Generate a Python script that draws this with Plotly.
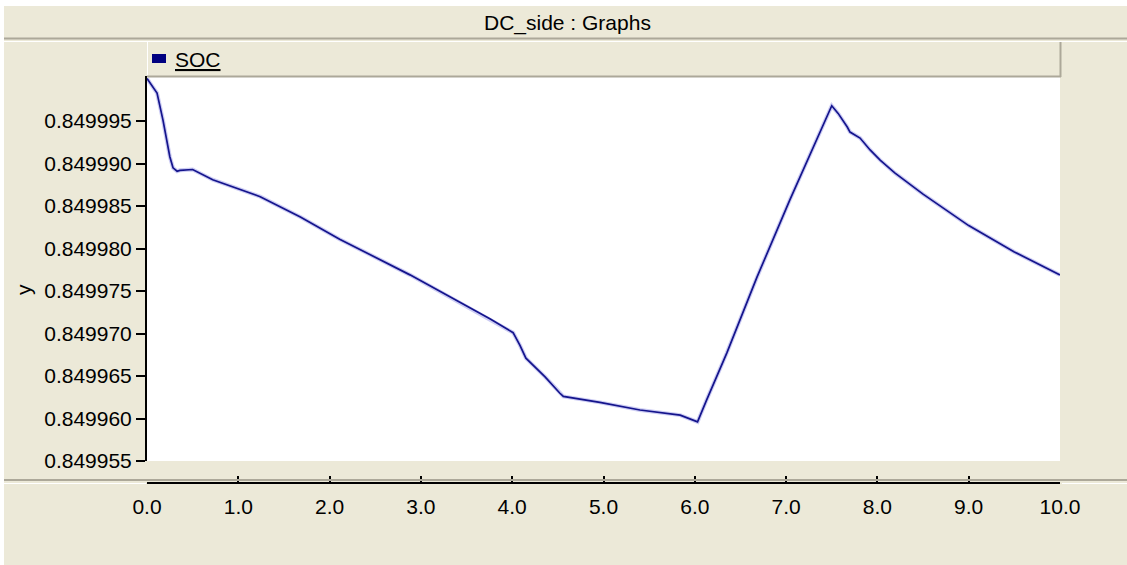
import plotly.graph_objects as go

# ---- data ----
time_s = [0.0, 0.11, 0.175, 0.20, 0.23, 0.25, 0.285, 0.33, 0.36, 0.50, 0.72, 1.0, 1.24,
          1.68, 2.11, 2.88, 3.76, 4.01, 4.085, 4.15, 4.36, 4.52, 4.56, 4.96, 5.40, 5.84,
          6.03, 6.13, 6.35, 6.68, 7.04, 7.50, 7.57, 7.67, 7.70, 7.81, 7.92, 8.03, 8.19,
          8.50, 9.0, 9.5, 10.0]
soc = [0.8500000, 0.8499983, 0.8499951, 0.8499937, 0.8499922, 0.8499908, 0.8499895,
       0.8499891, 0.8499892, 0.8499893, 0.8499881, 0.8499870, 0.8499861, 0.8499837,
       0.8499811, 0.8499769, 0.8499717, 0.8499701, 0.8499686, 0.8499671, 0.8499649,
       0.8499630, 0.8499626, 0.8499619, 0.8499610, 0.8499604, 0.8499596, 0.8499622,
       0.8499677, 0.8499766, 0.8499857, 0.8499968, 0.8499959, 0.8499943, 0.8499937,
       0.8499930, 0.8499916, 0.8499904, 0.8499889, 0.8499864, 0.8499827, 0.8499796,
       0.8499769]
y_ticks = [0.849955, 0.849960, 0.849965, 0.849970, 0.849975, 0.849980, 0.849985,
           0.849990, 0.849995]
x_ticks = [0, 1, 2, 3, 4, 5, 6, 7, 8, 9, 10]
title_text = "DC_side : Graphs"
series_name = "SOC"
y_label = "y"

# ---- layout geometry (pixels) ----
W, H = 1127, 565
L, R, T, B = 147, 1060, 76, 483   # plotting rectangle incl. x-axis band
PLOT_BOTTOM = 461
BEIGE = "#ECE9D8"
GRAY = "#ACA899"
FONT = "Arial, Liberation Sans, sans-serif"
FS = 21

def px(xp):
    return (xp - L) / (R - L)

def py(yp):
    return (B - yp) / (B - T)

fig = go.Figure()
fig.add_trace(go.Scatter(x=time_s, y=soc, mode="lines", name=series_name,
                         line=dict(color="rgba(110,110,220,0.35)", width=4),
                         hoverinfo="skip"))
fig.add_trace(go.Scatter(x=time_s, y=soc, mode="lines", name=series_name,
                         line=dict(color="#14148c", width=1.7), hoverinfo="skip"))

shapes = []
def rect(x0, y0, x1, y1, color):
    shapes.append(dict(type="rect", xref="paper", yref="paper", x0=px(x0), x1=px(x1),
                       y0=py(y0), y1=py(y1), fillcolor=color, line=dict(width=0),
                       layer="below"))

def hline(x0, x1, y, color, w):
    shapes.append(dict(type="line", xref="paper", yref="paper", x0=px(x0), x1=px(x1),
                       y0=py(y), y1=py(y), line=dict(color=color, width=w), layer="above"))

def vline(x, y0, y1, color, w):
    shapes.append(dict(type="line", xref="paper", yref="paper", x0=px(x), x1=px(x),
                       y0=py(y0), y1=py(y1), line=dict(color=color, width=w), layer="above"))

# outer white edges
rect(0, 0, W, 6, "white")
rect(0, 0, 4, H, "white")
# title bar separators
hline(4, W, 38.5, GRAY, 2)
hline(4, W, 41.5, "white", 1)
# legend bar borders
vline(147.5, 42, 76, "white", 1)
hline(147, 1061, 76.5, GRAY, 2)
vline(1060.5, 42, 77, GRAY, 2)
# bottom separator
hline(4, W, 480, GRAY, 2)
hline(4, L - 1, 483.5, "white", 1)
hline(R + 2, W, 483.5, "white", 1)
# legend marker
shapes.append(dict(type="rect", xref="paper", yref="paper", x0=px(152), x1=px(166),
                   y0=py(54), y1=py(63), fillcolor="#000080", line=dict(width=0),
                   layer="above"))

annotations = [
    dict(text=title_text, xref="paper", yref="paper", x=px(567), y=py(22.5),
         xanchor="center", yanchor="middle", showarrow=False,
         font=dict(family=FONT, size=FS, color="black")),
    dict(text="<u>" + series_name + "</u>", xref="paper", yref="paper", x=px(173),
         y=py(59), xanchor="left", yanchor="middle", showarrow=False,
         font=dict(family=FONT, size=FS, color="black")),
    dict(text=y_label, xref="paper", yref="paper", x=px(23), y=py(290),
         xanchor="center", yanchor="middle", showarrow=False, textangle=-90,
         font=dict(family=FONT, size=FS, color="black")),
]

fig.update_layout(
    width=W, height=H,
    margin=dict(l=L, r=W - R, t=T, b=H - B, pad=0),
    paper_bgcolor=BEIGE, plot_bgcolor="white",
    showlegend=False, hovermode=False,
    font=dict(family=FONT, size=FS, color="black"),
    shapes=shapes, annotations=annotations,
    xaxis=dict(range=[0, 10], tickvals=x_ticks,
               ticktext=[f"{v:.1f}" for v in x_ticks],
               anchor="free", position=0, showline=True, linecolor="black",
               linewidth=2, ticks="inside", ticklen=6, tickwidth=2, tickcolor="black",
               showgrid=False, zeroline=False, ticklabelstandoff=5,
               tickfont=dict(family=FONT, size=FS, color="black")),
    yaxis=dict(range=[0.849955, 0.8500003], domain=[py(PLOT_BOTTOM), 1],
               tickvals=y_ticks, ticktext=[f"{v:.6f}" for v in y_ticks],
               showline=True, linecolor="black", linewidth=2, ticks="outside",
               ticklen=9, tickwidth=2, tickcolor="black", showgrid=False,
               zeroline=False, tickfont=dict(family=FONT, size=FS, color="black")),
)

fig.write_html("out.html")
